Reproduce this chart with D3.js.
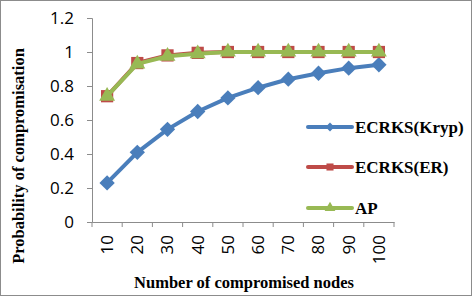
<!DOCTYPE html>
<html>
<head>
<meta charset="utf-8">
<script src="https://cdn.jsdelivr.net/npm/d3@7"></script>
<style>
	body { margin: 0; background: #fff; }
	svg { display: block; }
</style>
</head>
<body>
<div id="chart"></div>
<script>
// ===== data =====
var categories = [10, 20, 30, 40, 50, 60, 70, 80, 90, 100];
var kryp = [0.23, 0.41, 0.545, 0.65, 0.73, 0.79, 0.84, 0.875, 0.905, 0.925];
var er = [0.74, 0.935, 0.98, 0.995, 1, 1, 1, 1, 1, 1];
var ap = [0.74, 0.93, 0.975, 0.99, 1, 1, 1, 1, 1, 1];
var yTicks = [0, 0.2, 0.4, 0.6, 0.8, 1, 1.2];
var seriesNames = ['ECRKS(Kryp)', 'ECRKS(ER)', 'AP'];

var width = 472, height = 296;
var svg = d3.select('#chart').append('svg')
	.attr('width', width)
	.attr('height', height);

// outer frame
svg.append('rect')
	.attr('x', 0.5).attr('y', 0.5)
	.attr('width', width - 1).attr('height', height - 1)
	.attr('fill', '#fff').attr('stroke', '#8c8c8c');

var x = d3.scaleBand().domain(categories).range([92, 394]);
var y = d3.scaleLinear().domain([0, 1.2]).range([222, 18]);

// ===== axes =====
var yAxis = svg.append('g')
	.attr('transform', 'translate(92,0)')
	.call(d3.axisLeft(y).tickValues(yTicks).tickSize(5).tickFormat(d3.format('')));
var xAxis = svg.append('g')
	.attr('transform', 'translate(0,222)')
	.call(d3.axisBottom(x).tickSize(0));

// band edge ticks, like Excel
xAxis.selectAll('.edge')
	.data(categories.map(function(c) { return x(c); }).concat([x.range()[1]]))
	.enter().append('line')
	.attr('x1', function(d) { return d; }).attr('x2', function(d) { return d; })
	.attr('y1', 0).attr('y2', 5)
	.attr('stroke', '#8c8c8c');

[yAxis, xAxis].forEach(function(a) {
	a.select('.domain').attr('stroke', '#8c8c8c');
	a.selectAll('.tick line').attr('stroke', '#8c8c8c');
	a.selectAll('text')
		.attr('fill', '#000')
		.attr('font-family', '"Open Sans", sans-serif')
		.attr('font-size', '17px');
});
yAxis.selectAll('text').attr('x', -18);
xAxis.selectAll('.tick text')
	.attr('transform', 'rotate(-90)')
	.attr('text-anchor', 'end')
	.attr('dy', '0.35em')
	.attr('x', -13)
	.attr('y', 0);

// ===== lines & markers =====
var series = [
	{ name: seriesNames[0], values: kryp, color: '#4a7ebb', marker: 'diamond' },
	{ name: seriesNames[1], values: er, color: '#be4b48', marker: 'square' },
	{ name: seriesNames[2], values: ap, color: '#98b954', marker: 'triangle' }
];
var cx = function(i) { return x(categories[i]) + x.bandwidth() / 2; };
var line = d3.line()
	.x(function(d, i) { return cx(i); })
	.y(function(d) { return y(d); });

var symbolTypes = { diamond: d3.symbolDiamond2, square: d3.symbolSquare, triangle: d3.symbolTriangle };
var symbolSizes = { diamond: 150, square: 150, triangle: 110 };

series.forEach(function(s) {
	svg.append('path')
		.datum(s.values)
		.attr('d', line)
		.attr('fill', 'none')
		.attr('stroke', s.color)
		.attr('stroke-width', 4)
		.attr('stroke-linejoin', 'round');
	svg.selectAll(null)
		.data(s.values)
		.enter().append('path')
		.attr('d', d3.symbol().type(symbolTypes[s.marker]).size(symbolSizes[s.marker]))
		.attr('transform', function(d, i) { return 'translate(' + cx(i) + ',' + y(d) + ')'; })
		.attr('fill', s.color);
});

// ===== legend =====
var legendY = [127, 167, 208];
series.forEach(function(s, i) {
	var g = svg.append('g').attr('transform', 'translate(308,' + legendY[i] + ')');
	g.append('line')
		.attr('x1', 0).attr('x2', 44)
		.attr('stroke', s.color).attr('stroke-width', 4).attr('stroke-linecap', 'round');
	g.append('path')
		.attr('d', d3.symbol().type(symbolTypes[s.marker]).size(50))
		.attr('transform', 'translate(22,0)')
		.attr('fill', s.color);
	g.append('text')
		.attr('x', 47).attr('y', 0).attr('dy', '0.35em')
		.attr('font-family', '"Liberation Serif", "Times New Roman", serif')
		.attr('font-weight', 'bold')
		.attr('font-size', '17px')
		.text(s.name);
});

// ===== axis titles =====
svg.append('text')
	.attr('x', 244).attr('y', 288)
	.attr('text-anchor', 'middle')
	.attr('font-family', '"Liberation Serif", "Times New Roman", serif')
	.attr('font-weight', 'bold')
	.attr('font-size', '16.5px')
	.text('Number of compromised nodes');
svg.append('text')
	.attr('transform', 'translate(24,156) rotate(-90)')
	.attr('text-anchor', 'middle')
	.attr('font-family', '"Liberation Serif", "Times New Roman", serif')
	.attr('font-weight', 'bold')
	.attr('font-size', '16.5px')
	.text('Probability of compromisation');
</script>
</body>
</html>
